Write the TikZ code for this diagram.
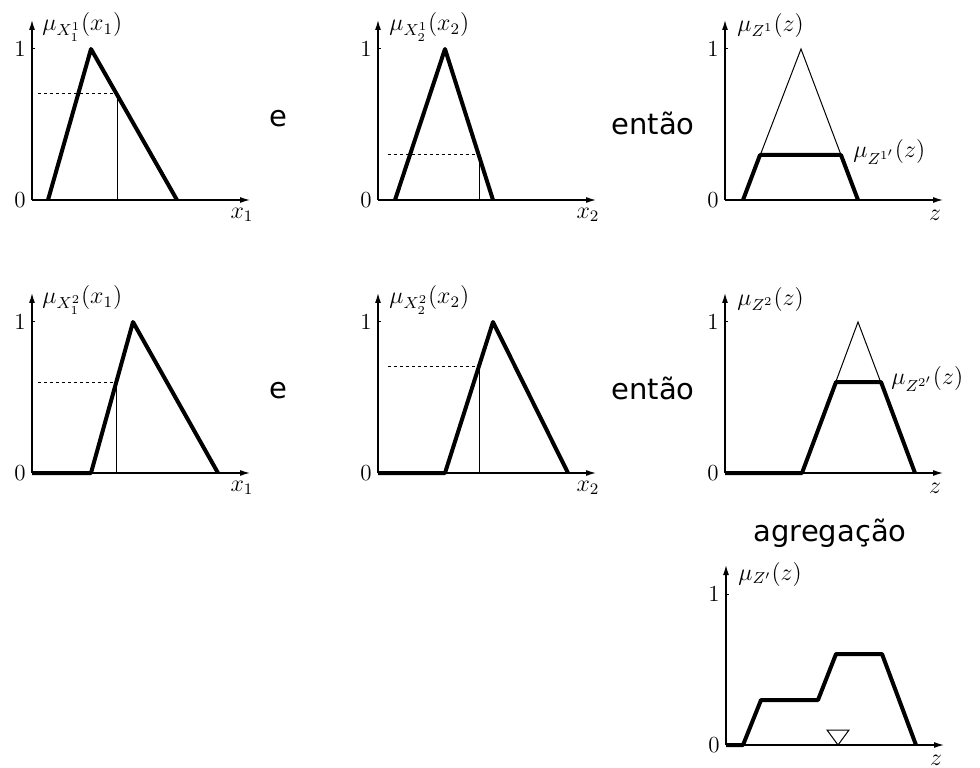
\documentclass[tikz,border=0pt]{standalone}
\usepackage{fontspec}
\usetikzlibrary{arrows.meta}
\newfontfamily\wordfont{DejaVu Sans}

\begin{document}
\begin{tikzpicture}[x=0.5pt, y=0.5pt,
   axis/.style={line width=0.6pt, -{Latex[length=5pt,width=3pt]}},
   memb/.style={line width=2pt, line join=round},
   orig/.style={line width=0.5pt},
   cut/.style={line width=0.5pt, dash pattern=on 1.5pt off 1.5pt},
   word/.style={font=\wordfont\fontsize{14.5}{17}\selectfont, anchor=base, inner sep=0pt},
   lbl/.style={font=\fontsize{11.5}{13}\selectfont, inner sep=0pt}]
   \useasboundingbox (0,0) rectangle (980,767);

   % axes of the seven panels
   \foreach \p/\ox/\oy/\v in {A/32/567/x_1, B/378/567/x_2, C/725/567/z,
                             D/32/294/x_1, E/378/294/x_2, F/725/294/z, G/726/22/z} {
      \begin{scope}[shift={(\ox,\oy)}]
         \draw[axis] (0,0) -- (218,0);
         \draw[axis] (0,0) -- (0,180);
         \draw[orig] (0,151) -- (3,151);
         \node[lbl] (\p-zero) at (-12,0) {0};
         \node[lbl] (\p-one) at (-12,151) {1};
         \node[lbl] (\p-var) at (210,-15) {$\v$};
      \end{scope}
   }

   % first rule
   \begin{scope}[shift={(32,567)}]
      \draw[memb] (16,0) -- (59,151) -- (145,0);
      \draw[cut] (6,106) -- (85,106);
      \draw[orig] (85,106) -- (85,0);
      \node[lbl, anchor=west] (A-mu) at (10,173) {$\mu_{X_1^1}(x_1)$};
   \end{scope}
   \node[word] (e1) at (278,640) {e};

   \begin{scope}[shift={(378,567)}]
      \draw[memb] (17,0) -- (67,151) -- (115,0);
      \draw[cut] (10,45) -- (101,45);
      \draw[orig] (101,45) -- (101,0);
      \node[lbl, anchor=west] (B-mu) at (11,173) {$\mu_{X_2^1}(x_2)$};
   \end{scope}
   \node[word] (entao1) at (653,632) {então};

   \begin{scope}[shift={(725,567)}]
      \draw[orig] (18,0) -- (76,151) -- (133,0);
      \draw[memb] (18,0) -- (35,45) -- (116,45) -- (133,0);
      \node[lbl, anchor=west] (C-mu) at (12,174) {$\mu_{Z^1}(z)$};
      \node[lbl, anchor=west] (C-cut) at (128,48) {$\mu_{Z^{1'}}(z)$};
   \end{scope}

   % second rule
   \begin{scope}[shift={(32,294)}]
      \draw[memb] (0,0) -- (59,0) -- (101,151) -- (186,0);
      \draw[cut] (6,91) -- (84,91);
      \draw[orig] (84,91) -- (84,0);
      \node[lbl, anchor=west] (D-mu) at (10,173) {$\mu_{X_1^2}(x_1)$};
   \end{scope}
   \node[word] (e2) at (278,369) {e};

   \begin{scope}[shift={(378,294)}]
      \draw[memb] (0,0) -- (67,0) -- (115,151) -- (190,0);
      \draw[cut] (10,106) -- (101,106);
      \draw[orig] (101,106) -- (101,0);
      \node[lbl, anchor=west] (E-mu) at (11,173) {$\mu_{X_2^2}(x_2)$};
   \end{scope}
   \node[word] (entao2) at (653,367) {então};

   \begin{scope}[shift={(725,294)}]
      \draw[orig] (77,0) -- (133,151) -- (190,0);
      \draw[memb] (0,0) -- (77,0) -- (111,91) -- (156,91) -- (190,0);
      \node[lbl, anchor=west] (F-mu) at (12,173) {$\mu_{Z^2}(z)$};
      \node[lbl, anchor=west] (F-cut) at (166,94) {$\mu_{Z^{2'}}(z)$};
   \end{scope}

   % aggregation
   \node[word] (agreg) at (830,226) {agregação};
   \begin{scope}[shift={(726,22)}]
      \draw[memb] (0,0) -- (17,0) -- (35,45) -- (92,45) -- (110,91) -- (156,91) -- (190,0);
      \draw[orig] (112,0) -- (101,15) -- (123,15) -- cycle;
      \node[lbl, anchor=west] (G-mu) at (12,171) {$\mu_{Z'}(z)$};
   \end{scope}
\end{tikzpicture}
\end{document}
